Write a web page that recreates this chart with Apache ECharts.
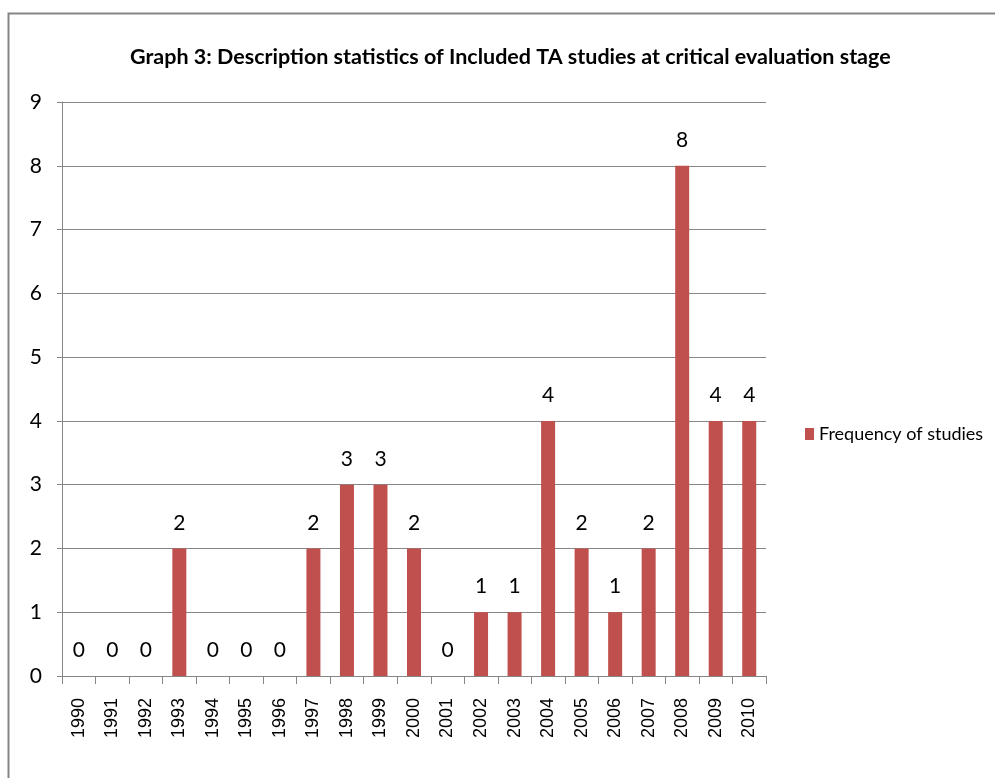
<!DOCTYPE html>
<html>
<head>
<meta charset="utf-8">
<script src="https://cdn.jsdelivr.net/npm/echarts@6/dist/echarts.min.js"></script>
<style>
  html, body { margin: 0; padding: 0; background: #fff; }
  #chart { width: 995px; height: 778px; }
</style>
</head>
<body>
<div id="chart"></div>
<script>
const years = ["1990", "1991", "1992", "1993", "1994", "1995", "1996", "1997", "1998", "1999", "2000",
  "2001", "2002", "2003", "2004", "2005", "2006", "2007", "2008", "2009", "2010"];
const frequency = [0, 0, 0, 2, 0, 0, 0, 2, 3, 3, 2, 0, 1, 1, 4, 2, 1, 2, 8, 4, 4];
const titleText = "Graph 3: Description statistics of Included TA studies at critical evaluation stage";
const seriesName = "Frequency of studies";

// Lato has Calibri-like widths
const narrow = "Lato, 'Open Sans', sans-serif";
const arial = "'Liberation Sans', Arial, sans-serif";

let myChart = echarts.init(document.getElementById("chart"));
let option = {
  animation: false,
  backgroundColor: "#fff",
  title: {
    text: titleText,
    left: 125,
    top: 41,
    textStyle: {
      fontFamily: narrow,
      fontWeight: "bold",
      fontSize: 21.5,
      color: "#000",
    },
  },
  // frame around the chart area
  graphic: [
    {
      type: "rect",
      shape: { x: 8.5, y: 13.5, width: 1100, height: 900 },
      style: { fill: "none", stroke: "#858585", lineWidth: 2 },
      silent: true,
    },
  ],
  legend: {
    data: [seriesName],
    left: 800,
    top: 420,
    itemWidth: 9,
    itemHeight: 12,
    itemGap: 8,
    icon: "rect",
    textStyle: {
      fontFamily: narrow,
      fontSize: 18,
      color: "#000",
    },
  },
  grid: {
    left: 62,
    right: 229,
    top: 102,
    bottom: 102,
    containLabel: false,
  },
  xAxis: {
    type: "category",
    data: years,
    axisLine: { lineStyle: { color: "#868686", width: 1 } },
    axisTick: { show: true, length: 8, alignWithLabel: false, lineStyle: { color: "#868686" } },
    axisLabel: {
      rotate: 90,
      margin: 22,
      fontFamily: arial,
      fontSize: 18,
      color: "#000",
    },
  },
  yAxis: {
    type: "value",
    min: 0,
    max: 9,
    interval: 1,
    axisLine: { show: true, lineStyle: { color: "#868686" } },
    axisTick: { show: true, length: 5, lineStyle: { color: "#868686" } },
    splitLine: { show: true, lineStyle: { color: "#868686", width: 1 } },
    axisLabel: {
      margin: 20,
      fontFamily: narrow,
      fontSize: 21,
      color: "#000",
    },
  },
  series: [
    {
      name: seriesName,
      type: "bar",
      data: frequency,
      barWidth: 14,
      itemStyle: { color: "#C0504D" },
      label: {
        show: true,
        position: "top",
        distance: 15,
        fontFamily: narrow,
        fontSize: 21,
        color: "#000",
      },
    },
  ],
};
myChart.setOption(option);
</script>
</body>
</html>
